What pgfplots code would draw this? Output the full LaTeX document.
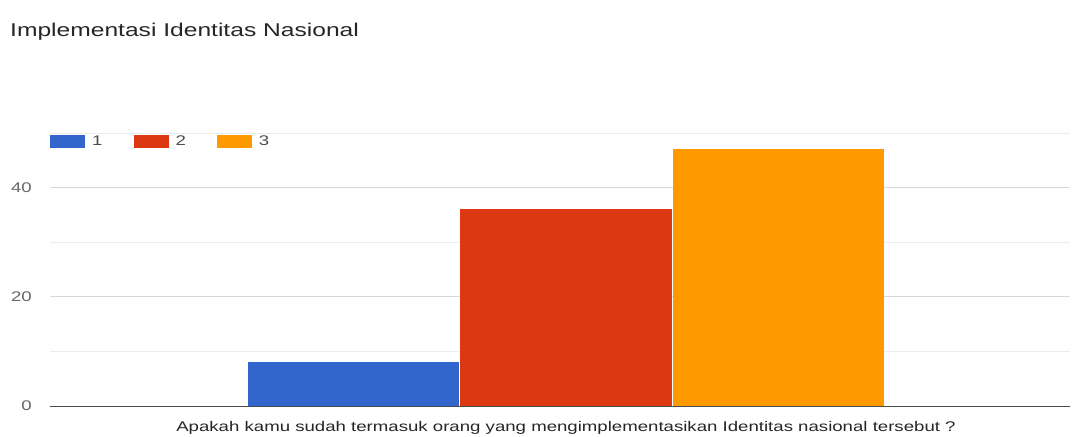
\documentclass[border=0pt]{standalone}
\usepackage{fontspec}
\setmainfont{Liberation Sans}[FakeStretch=1.33]
\usepackage{pgfplots}
\pgfplotsset{compat=1.18}
\definecolor{gblue}{HTML}{3366CC}
\definecolor{gred}{HTML}{DC3912}
\definecolor{gorange}{HTML}{FF9900}
\begin{document}
\begin{tikzpicture}
\path[use as bounding box] (-50bp,-31bp) rectangle (1023bp,406bp);
\node[anchor=base west, font=\fontsize{18.5bp}{21bp}\selectfont, text=black!85, inner sep=0pt] at (-40bp,369bp) {Implementasi Identitas Nasional};
\begin{axis}[
  at={(0,0)}, anchor=south west, scale only axis,
  width=1020bp, height=273bp,
  xmin=0, xmax=1020, ymin=0, ymax=50,
  ybar=1bp, bar width=211bp,
  xtick={516}, xticklabels={Apakah kamu sudah termasuk orang yang mengimplementasikan Identitas nasional tersebut ?},
  xticklabel style={font=\fontsize{14bp}{16bp}\selectfont, text=black!85, anchor=base, inner sep=0pt, yshift=-25bp},
  ytick={0,20,40}, minor ytick={10,30,50},
  yticklabel style={font=\fontsize{14bp}{16bp}\selectfont, text=black!60, anchor=east, inner sep=0pt, xshift=-18bp},
  /pgf/number format/assume math mode=true,
  major tick length=0pt, minor tick length=0pt,
  ymajorgrids, yminorgrids,
  major grid style={black!15, line width=1pt},
  minor grid style={black!7, line width=1pt},
  axis x line*=bottom, axis y line*=left,
  x axis line style={black!70, line width=1pt},
  y axis line style={draw=none},
  legend style={at={(0,1)}, anchor=north west, draw=none, fill=none,
    legend columns=3, inner sep=0pt, yshift=-2bp,
    nodes={inner sep=0pt},
    font=\fontsize{14bp}{16bp}\selectfont, text=black!70,
    /tikz/every odd column/.append style={column sep=7bp},
    /tikz/every even column/.append style={column sep=31bp}},
  legend image code/.code={\fill[#1] (0bp,-7bp) rectangle (35bp,6bp);},
]
\addplot[fill=gblue, draw=none] coordinates {(516,8)};
\addplot[fill=gred, draw=none] coordinates {(516,36)};
\addplot[fill=gorange, draw=none] coordinates {(516,47)};
\legend{1,2,3}
\end{axis}
\end{tikzpicture}
\end{document}
